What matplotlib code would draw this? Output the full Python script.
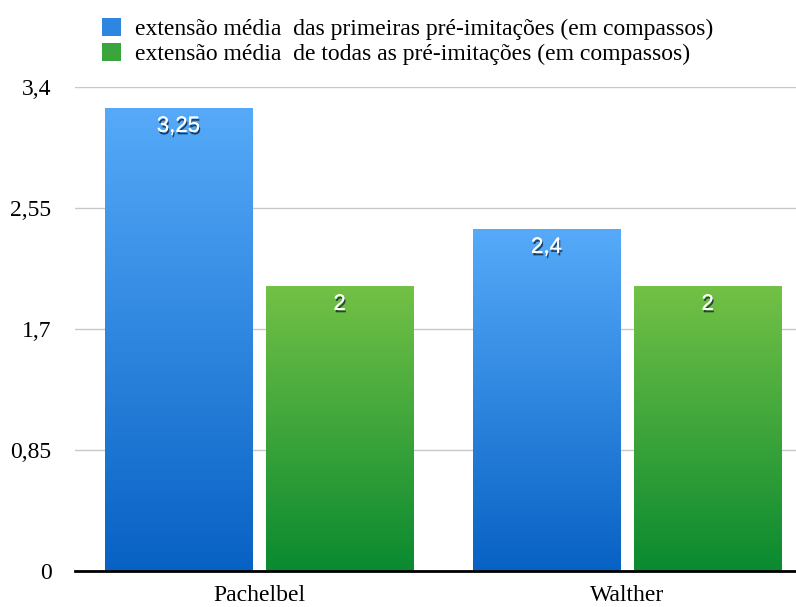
import numpy as np
import matplotlib
matplotlib.use("Agg")
import matplotlib.pyplot as plt
import matplotlib.patheffects as pe
from matplotlib.colors import LinearSegmentedColormap
from matplotlib.patches import Patch

categories = ["Pachelbel", "Walther"]
series_names = ["extensão média  das primeiras pré-imitações (em compassos)",
                "extensão média  de todas as pré-imitações (em compassos)"]
first_vals = [3.25, 2.4]
all_vals = [2.0, 2.0]
value_labels_first = ["3,25", "2,4"]
value_labels_all = ["2", "2"]
yticks = [0, 0.85, 1.7, 2.55, 3.4]
ytick_labels = ["0", "0,85", "1,7", "2,55", "3,4"]

blue_top, blue_bot = "#56aaf9", "#0862c4"
green_top, green_bot = "#73c146", "#0a8a30"

fig = plt.figure(figsize=(7.96, 6.07), dpi=100)
W, H = 796, 607
ax = fig.add_axes([75 / W, (H - 571) / H, (796 - 75) / W, (571 - 87) / H])

x = np.arange(len(categories))
bw = 0.40
off = 0.219

def grad_bars(xs, vals, top, bot):
    bars = ax.bar(xs, vals, width=bw, color="none", edgecolor="none", zorder=3)
    cmap = LinearSegmentedColormap.from_list("g", [bot, top])
    grad = np.linspace(0, 1, 256).reshape(-1, 1)
    for b in bars:
        x0, y0, w, h = b.get_x(), b.get_y(), b.get_width(), b.get_height()
        ax.imshow(grad, cmap=cmap, origin="lower", aspect="auto",
                  extent=(x0, x0 + w, y0, y0 + h), zorder=3, interpolation="bicubic")
    return bars

b1 = grad_bars(x - off, first_vals, blue_top, blue_bot)
b2 = grad_bars(x + off, all_vals, green_top, green_bot)

shadow = [pe.withSimplePatchShadow(offset=(0.8, -1.8), shadow_rgbFace="#0a1a30", alpha=0.75), pe.Normal()]
for bars, labels in ((b1, value_labels_first), (b2, value_labels_all)):
    for b, lab in zip(bars, labels):
        ax.annotate(lab, (b.get_x() + b.get_width() / 2, b.get_height()),
                    xytext=(0, -18), textcoords="offset pixels",
                    ha="center", va="center", color="white", fontsize=16,
                    family="Liberation Sans", path_effects=shadow, zorder=5)

ax.set_xlim(-0.5, 1.459)
ax.set_ylim(0, 3.4)
ax.set_yticks(yticks)
ax.set_yticklabels(ytick_labels, family="Liberation Serif", fontsize=17)
ax.set_xticks(x)
ax.set_xticklabels(categories, family="Liberation Serif", fontsize=17)
ax.tick_params(axis="both", length=0)
ax.tick_params(axis="y", pad=17)
ax.tick_params(axis="x", pad=10)
ax.yaxis.grid(True, color="#c8c8c8", linewidth=1)
ax.set_axisbelow(True)
for s in ("top", "right", "left"):
    ax.spines[s].set_visible(False)
ax.spines["bottom"].set_linewidth(2)
ax.spines["bottom"].set_color("black")
ax.spines["bottom"].set_zorder(6)

handles = [Patch(facecolor="#2f86e0", edgecolor="none"), Patch(facecolor="#3aa53a", edgecolor="none")]
fig.legend(handles, series_names, loc="upper left", bbox_to_anchor=(97 / W, 1 - 13 / H),
           frameon=False, prop={"family": "Liberation Serif", "size": 17},
           handlelength=0.82, handleheight=0.82, handletextpad=0.6, labelspacing=0.12,
           borderaxespad=0, borderpad=0.2)

fig.savefig("out.png", dpi=100)
